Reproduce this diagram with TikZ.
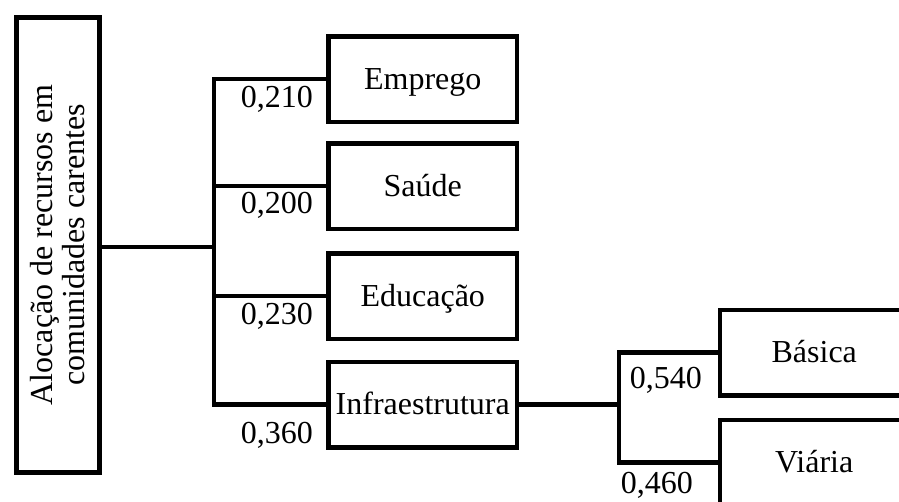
\documentclass[tikz,border=0pt]{standalone}
\usepackage{fontspec}
\setmainfont{Liberation Serif}
\begin{document}
\begin{tikzpicture}[x=1pt,y=-1pt,
  every node/.style={font=\fontsize{32}{32}\selectfont},
  lw/.style={line width=4.5pt},
  crit/.style={draw,lw,rectangle,inner sep=0pt,minimum width=188.5pt,minimum height=85.5pt,
    text height=20.5pt,text depth=0pt},
  goal/.style={draw,lw,rectangle,inner sep=0pt,rotate=90,align=center,
    minimum width=455pt,minimum height=83pt},
  wt/.style={inner sep=0pt,anchor=base east},
  link/.style={lw}]
\useasboundingbox (0,0) rectangle (899,501);
\clip (0,0) rectangle (899,501);

% goal
\node[goal] (goal) at (58,245) {Alocação de recursos em\\comunidades carentes};

% first-level criteria
\node[crit] (emp) at (422.75,79)    {Emprego};
\node[crit] (sau) at (422.75,186)   {Saúde};
\node[crit] (edu) at (422.75,296)   {Educação};
\node[crit] (inf) at (422.75,404.5) {Infraestrutura};

% sub-criteria of Infraestrutura
\node[crit] (bas) at (814.25,352.5) {Básica};
\node[crit] (via) at (814.25,462.5) {Viária};

% first-level tree
\coordinate (j1) at (214,247);
\draw[link] (goal.south |- j1) -- (j1);
\draw[link] (emp.west) -- (j1 |- emp.west) -- (j1 |- inf.west) -- (inf.west);
\draw[link] (j1 |- sau.west) -- (sau.west);
\draw[link] (j1 |- edu.west) -- (edu.west);

% second-level tree
\coordinate (j2) at (619,404.5);
\draw[link] (inf.east) -- (j2);
\draw[link] (bas.west) -- (j2 |- bas.west) -- (j2 |- via.west) -- (via.west);

% weights
\node[wt] (w1) at (313,107) {0,210};
\node[wt] (w2) at (313,213) {0,200};
\node[wt] (w3) at (313,324) {0,230};
\node[wt] (w4) at (313,443) {0,360};
\node[wt] (w5) at (702,388) {0,540};
\node[wt] (w6) at (693,493) {0,460};
\end{tikzpicture}
\end{document}
